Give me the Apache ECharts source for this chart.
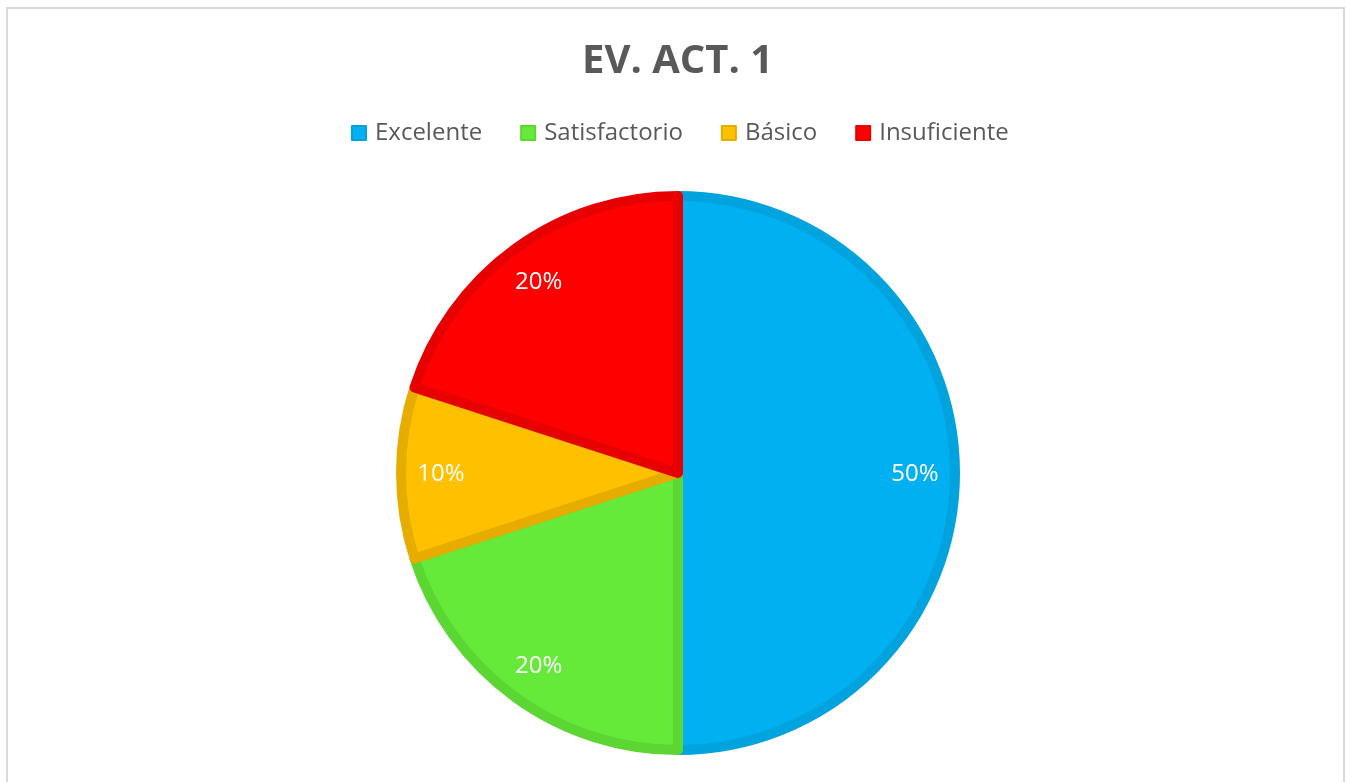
<!DOCTYPE html>
<html>
<head>
<meta charset="utf-8">
<script src="https://cdn.jsdelivr.net/npm/echarts@6/dist/echarts.min.js"></script>
<style>html,body{margin:0;padding:0;background:#fff;}#c{width:1346px;height:782px;}</style>
</head>
<body>
<div id="c"></div>
<script>
const titleText = 'EV. ACT. 1';
const categories = ['Excelente', 'Satisfactorio', 'Básico', 'Insuficiente'];
const values = [50, 20, 10, 20];
const fillColors = ['#00B0F0', '#66EA3A', '#FFC000', '#FF0000'];
const borderColors = ['#00A3DD', '#5CD632', '#E6AD00', '#E60000'];

const chart = echarts.init(document.getElementById('c'));
const total = values.reduce((a, b) => a + b, 0);
const FONT = '"Open Sans", "Noto Sans", sans-serif';

chart.setOption({
  animation: false,
  backgroundColor: '#fff',
  title: {
    text: titleText,
    left: 577,
    top: 37,
    textStyle: { fontFamily: FONT, fontSize: 40, fontWeight: 'bold', color: '#595959' }
  },
  legend: {
    top: 116,
    left: 346,
    itemWidth: 14,
    itemHeight: 14,
    itemGap: 38,
    icon: 'rect',
    data: categories,
    textStyle: { fontFamily: FONT, fontSize: 24, color: '#595959', padding: [0, 0, 0, 4] }
  },
  graphic: [{
    type: 'rect',
    shape: { x: 7, y: 8, width: 1337, height: 800 },
    style: { fill: 'none', stroke: '#d9d9d9', lineWidth: 2 },
    silent: true
  }],
  series: [
    {
      type: 'pie',
      center: [678, 473],
      radius: [0, 277],
      startAngle: 90,
      clockwise: true,
      label: { show: false },
      labelLine: { show: false },
      emphasis: { disabled: true },
      data: categories.map((n, i) => ({
        name: n, value: values[i],
        itemStyle: { color: fillColors[i], borderColor: borderColors[i], borderWidth: 10 }
      }))
    },
    {
      type: 'pie',
      center: [678, 474],
      radius: [186, 282],
      startAngle: 90,
      clockwise: true,
      silent: true,
      emphasis: { disabled: true },
      itemStyle: { color: 'transparent' },
      label: {
        show: true,
        position: 'inside',
        fontFamily: FONT,
        fontSize: 24,
        color: '#ffffff',
        formatter: p => Math.round(p.value / total * 100) + '%'
      },
      labelLine: { show: false },
      data: categories.map((n, i) => ({ name: n, value: values[i] }))
    }
  ]
});
</script>
</body>
</html>
